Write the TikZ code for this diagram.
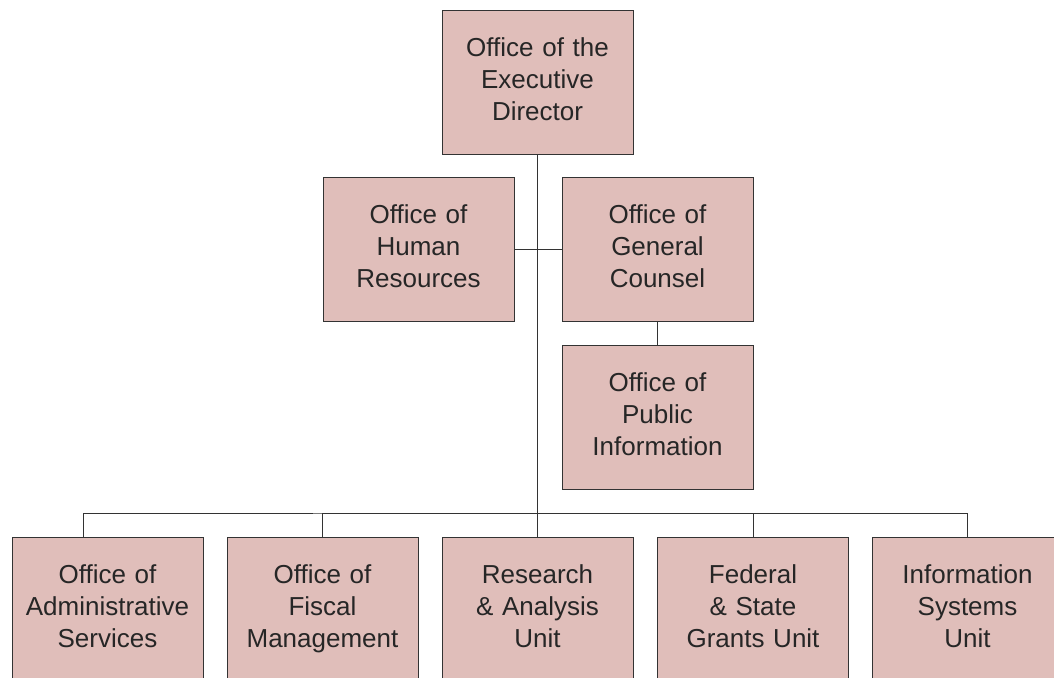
\documentclass[tikz,border=0pt]{standalone}
\usepackage{fontspec}
\setmainfont{Liberation Sans}
\definecolor{boxpink}{RGB}{224,190,186}
\definecolor{linegray}{RGB}{51,51,51}
\tikzset{
    office/.style={draw=linegray, fill=boxpink, line width=0.9pt,
        minimum width=191pt, minimum height=144pt, inner sep=0pt,
        text width=185pt, align=center, text=black!85,
        font=\fontsize{26}{32}\selectfont,
        execute at begin node=\strut, execute at end node=\strut},
    link/.style={draw=linegray, line width=0.9pt}
}
\begin{document}
\begin{tikzpicture}[x=1pt, y=-1pt]
    \useasboundingbox (0,0) rectangle (1054,677);
    \clip (0,0) rectangle (1054,677);
    % top
    \node[office] (exec) at (537.5,82) {Office of the\\Executive\\Director};
    % second level
    \node[office] (hr) at (418.5,249.5) {Office of\\Human\\Resources};
    \node[office] (gc) at (657.5,249.5) {Office of\\General\\Counsel};
    \node[office] (pi) at (657.5,417) {Office of\\Public\\Information};
    % bottom row
    \node[office] (admin) at (107.5,609) {Office of\\Administrative\\Services};
    \node[office] (fiscal) at (322.5,609) {Office of\\Fiscal\\Management};
    \node[office] (research) at (537.5,609) {Research\\\& Analysis\\Unit};
    \node[office] (grants) at (753,609) {Federal\\\& State\\Grants Unit};
    \node[office] (info) at (967.5,609) {Information\\Systems\\Unit};
    \coordinate (bus) at (537.5,513);
    \coordinate (adminin) at ([xshift=-24pt]admin.north);
    % connectors
    \draw[link] (exec.south) -- (research.north);
    \draw[link] (hr.east) -- (gc.west);
    \draw[link] (gc.south) -- (pi.north);
    \draw[link] (adminin) |- (bus) -| (info.north);
    \draw[link] (fiscal.north) |- (bus);
    \draw[link] (grants.north) |- (bus);
\end{tikzpicture}
\end{document}
